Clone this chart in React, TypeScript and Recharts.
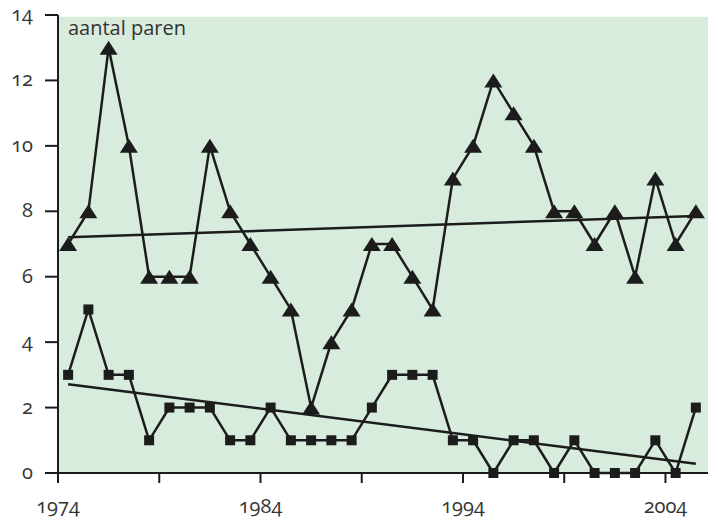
import React from 'react';
import {
  LineChart,
  Line,
  XAxis,
  YAxis,
  CartesianGrid,
  ReferenceArea,
} from 'recharts';

const years = [
  1974, 1975, 1976, 1977, 1978, 1979, 1980, 1981, 1982, 1983, 1984, 1985, 1986, 1987, 1988, 1989,
  1990, 1991, 1992, 1993, 1994, 1995, 1996, 1997, 1998, 1999, 2000, 2001, 2002, 2003, 2004, 2005,
];
// triangles (upper series)
const paren = [7, 8, 13, 10, 6, 6, 6, 10, 8, 7, 6, 5, 2, 4, 5, 7, 7, 6, 5, 9, 10, 12, 11, 10, 8, 8, 7, 8, 6, 9, 7, 8];
// squares (lower series)
const parenLaag = [3, 5, 3, 3, 1, 2, 2, 2, 1, 1, 2, 1, 1, 1, 1, 2, 3, 3, 3, 1, 1, 0, 1, 1, 0, 1, 0, 0, 0, 1, 0, 2];
const xTicks = [1974, 1979, 1984, 1989, 1994, 1999, 2004];
const xLabels = [1974, 1984, 1994, 2004];
const yTicks = [0, 2, 4, 6, 8, 10, 12, 14];
const gridValues = [2, 4, 6, 8, 10, 12];

const INK = '#1c1c1c';
const FONT = '"Open Sans", "DejaVu Sans", sans-serif';

// least squares trend
const fit = (ys: number[]) => {
  const n = ys.length;
  const mx = years.reduce((a, b) => a + b, 0) / n;
  const my = ys.reduce((a, b) => a + b, 0) / n;
  let sxy = 0;
  let sxx = 0;
  years.forEach((x, i) => {
    sxy += (x - mx) * (ys[i] - my);
    sxx += (x - mx) * (x - mx);
  });
  const b = sxy / sxx;
  return (x: number) => my + b * (x - mx);
};

const triFit = fit(paren);
const sqFit = fit(parenLaag);

const data = years.map((y, i) => ({
  x: y + 0.5,
  tri: paren[i],
  sq: parenLaag[i],
  triTrend: i === 0 || i === years.length - 1 ? triFit(y) : undefined,
  sqTrend: i === 0 || i === years.length - 1 ? sqFit(y) : undefined,
}));

const Triangle = (props: any) => {
  const { cx, cy } = props;
  if (cx == null || cy == null) return null;
  return <path d={`M${cx},${cy - 7} L${cx + 9},${cy + 7} L${cx - 9},${cy + 7} Z`} fill={INK} />;
};

const Square = (props: any) => {
  const { cx, cy } = props;
  if (cx == null || cy == null) return null;
  return <rect x={cx - 5} y={cy - 5} width={10} height={10} fill={INK} />;
};

const XTick = (props: any) => {
  const { x, y, payload } = props;
  if (!xLabels.includes(payload.value)) return null;
  return (
    <text x={x} y={y} dy={24} textAnchor="middle" fill="#333" fontSize={20} fontFamily={FONT} style={{ fontVariantNumeric: 'oldstyle-nums' }}>
      {payload.value}
    </text>
  );
};

const YTick = (props: any) => {
  const { x, y, payload } = props;
  return (
    <text x={x - 2} y={y} dy={6} textAnchor="end" fill="#333" fontSize={20} fontFamily={FONT} style={{ fontVariantNumeric: 'oldstyle-nums' }}>
      {payload.value}
    </text>
  );
};

export default function App() {
  return (
    <div style={{ position: 'absolute', left: 0, top: 0, width: 718, height: 523, background: '#fff' }}>
      <LineChart width={718} height={523} data={data} margin={{ top: 15, right: 10, bottom: 0, left: 0 }}>
        <ReferenceArea x1={1974} x2={2006.1} y1={0} y2={13.95} fill="#d8ecdd" fillOpacity={1} stroke="none" />
        <CartesianGrid horizontalValues={gridValues} vertical={false} stroke="#111" strokeWidth={2} />
        <XAxis
          dataKey="x"
          type="number"
          domain={[1974, 2006.1]}
          ticks={xTicks}
          interval={0}
          height={50}
          tickSize={10}
          tickMargin={6}
          axisLine={{ stroke: INK, strokeWidth: 2 }}
          tickLine={{ stroke: INK, strokeWidth: 2 }}
          tick={<XTick />}
        />
        <YAxis
          type="number"
          domain={[0, 14]}
          ticks={yTicks}
          interval={0}
          width={58}
          tickSize={13}
          tickMargin={10}
          axisLine={{ stroke: INK, strokeWidth: 2 }}
          tickLine={{ stroke: INK, strokeWidth: 2 }}
          tick={<YTick />}
        />
        <Line dataKey="triTrend" stroke={INK} strokeWidth={2.5} dot={false} connectNulls isAnimationActive={false} />
        <Line dataKey="sqTrend" stroke={INK} strokeWidth={2.5} dot={false} connectNulls isAnimationActive={false} />
        <Line dataKey="tri" stroke={INK} strokeWidth={2.5} dot={<Triangle />} activeDot={false} isAnimationActive={false} />
        <Line dataKey="sq" stroke={INK} strokeWidth={2.5} dot={<Square />} activeDot={false} isAnimationActive={false} />
      </LineChart>
      <div
        style={{
          position: 'absolute',
          left: 68,
          top: 14,
          fontFamily: FONT,
          fontSize: 20,
          lineHeight: '28px',
          color: '#333',
          whiteSpace: 'nowrap',
        }}
      >
        aantal paren
      </div>
    </div>
  );
}
